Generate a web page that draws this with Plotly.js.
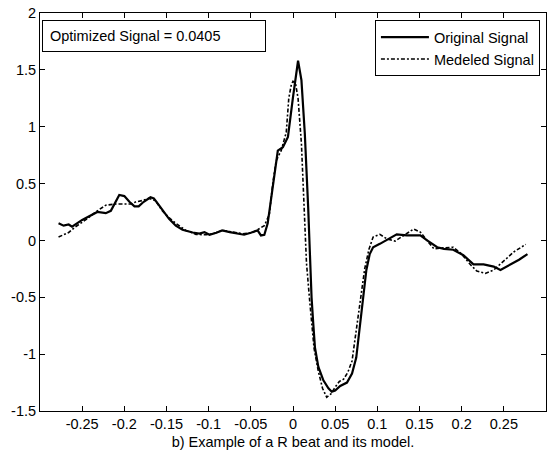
<!DOCTYPE html>
<html><head><meta charset="utf-8">
<script src="https://cdn.plot.ly/plotly-3.0.1.min.js"></script>
<style>html,body{margin:0;padding:0;background:#fff}#chart{width:553px;height:455px}</style>
</head><body><div id="chart"></div>
<script>
const origX = [-0.278,-0.272,-0.266,-0.262,-0.25,-0.238,-0.232,-0.222,-0.216,-0.206,-0.2,-0.194,-0.188,-0.183,-0.177,-0.169,-0.165,-0.159,-0.147,-0.139,-0.131,-0.119,-0.111,-0.105,-0.099,-0.091,-0.084,-0.075,-0.067,-0.058,-0.05,-0.042,-0.038,-0.034,-0.030,-0.026,-0.022,-0.018,-0.012,-0.006,0.0,0.006,0.010,0.014,0.018,0.020,0.022,0.024,0.026,0.030,0.036,0.042,0.046,0.050,0.056,0.064,0.070,0.075,0.079,0.083,0.087,0.091,0.095,0.103,0.113,0.123,0.135,0.151,0.159,0.171,0.179,0.19,0.202,0.214,0.226,0.238,0.246,0.258,0.268,0.278];
const origY = [0.15,0.13,0.14,0.12,0.18,0.23,0.25,0.24,0.26,0.40,0.39,0.34,0.30,0.30,0.34,0.38,0.37,0.31,0.19,0.13,0.094,0.07,0.06,0.073,0.05,0.068,0.088,0.073,0.059,0.05,0.068,0.088,0.044,0.05,0.15,0.35,0.59,0.79,0.82,0.91,1.26,1.58,1.41,0.94,0.29,-0.12,-0.5,-0.73,-0.94,-1.11,-1.23,-1.30,-1.33,-1.32,-1.28,-1.25,-1.17,-1.03,-0.79,-0.5,-0.26,-0.12,-0.06,-0.03,0.015,0.053,0.044,0.044,0.0,-0.06,-0.074,-0.082,-0.13,-0.21,-0.21,-0.23,-0.26,-0.21,-0.17,-0.12];
const modX = [-0.278,-0.266,-0.258,-0.246,-0.234,-0.222,-0.21,-0.202,-0.192,-0.186,-0.179,-0.171,-0.163,-0.155,-0.147,-0.139,-0.127,-0.115,-0.103,-0.095,-0.083,-0.071,-0.06,-0.048,-0.04,-0.034,-0.028,-0.024,-0.02,-0.014,-0.008,-0.005,-0.002,0.0,0.003,0.006,0.01,0.013,0.016,0.02,0.025,0.03,0.035,0.04,0.045,0.05,0.055,0.06,0.065,0.07,0.075,0.08,0.085,0.09,0.095,0.103,0.111,0.121,0.129,0.135,0.143,0.151,0.159,0.167,0.179,0.19,0.2,0.21,0.218,0.228,0.238,0.25,0.262,0.276];
const modY = [0.03,0.07,0.12,0.18,0.25,0.31,0.32,0.32,0.32,0.34,0.35,0.37,0.35,0.26,0.20,0.15,0.088,0.053,0.05,0.059,0.088,0.073,0.059,0.068,0.10,0.13,0.23,0.50,0.70,0.79,0.95,1.25,1.37,1.40,1.38,1.25,0.85,0.3,-0.2,-0.55,-0.95,-1.15,-1.3,-1.38,-1.35,-1.29,-1.24,-1.22,-1.16,-1.06,-0.8,-0.5,-0.25,-0.08,0.03,0.053,0.015,-0.006,0.03,0.06,0.10,0.073,0.0,-0.074,-0.065,-0.06,-0.12,-0.21,-0.27,-0.29,-0.26,-0.18,-0.10,-0.035];
const xTickVals = [-0.25,-0.2,-0.15,-0.1,-0.05,0,0.05,0.1,0.15,0.2,0.25];
const xTickText = ["-0.25","-0.2","-0.15","-0.1","-0.05","0","0.05","0.1","0.15","0.2","0.25"];
const yTickVals = [-1.5,-1,-0.5,0,0.5,1,1.5,2];
const yTickText = ["-1.5","-1","-0.5","0","0.5","1","1.5","2"];
const seriesNames = ["Original Signal","Medeled Signal"];
const annoText = "Optimized Signal = 0.0405";
const xTitle = "b) Example of a R beat and its model.";

const font = {family:"Liberation Sans, Arial, sans-serif", size:14.5, color:"#000"};
const data = [
  {x:origX, y:origY, type:"scatter", mode:"lines", name:seriesNames[0], line:{color:"#000", width:2.2}},
  {x:modX, y:modY, type:"scatter", mode:"lines", name:seriesNames[1], line:{color:"#000", width:1.6, dash:"4px,2px,2px,2px"}}
];
const axisCommon = {showgrid:false, zeroline:false, showline:true, linecolor:"#000", linewidth:1, mirror:"ticks", ticks:"inside", ticklen:5, tickcolor:"#000", tickfont:font};
const layout = {
  width:553, height:455, margin:{l:40, r:7, t:13, b:44},
  paper_bgcolor:"#fff", plot_bgcolor:"#fff", font:font, showlegend:true,
  xaxis:Object.assign({}, axisCommon, {range:[-0.3,0.3], tickvals:xTickVals, ticktext:xTickText, title:{text:xTitle, font:font, standoff:5}}),
  yaxis:Object.assign({}, axisCommon, {range:[-1.5,2], tickvals:yTickVals, ticktext:yTickText}),
  legend:{x:0.988, xanchor:"right", y:0.982, yanchor:"top", bgcolor:"#fff", bordercolor:"#000", borderwidth:1, font:font, tracegroupgap:0, itemwidth:48},
  annotations:[{xref:"paper", yref:"paper", x:0.004, y:0.982, xanchor:"left", yanchor:"top", text:annoText, showarrow:false, align:"left", bordercolor:"#000", borderwidth:1, borderpad:7, bgcolor:"#fff", font:font, width:208}]
};
Plotly.newPlot("chart", data, layout, {displayModeBar:false, staticPlot:true});
</script></body></html>
